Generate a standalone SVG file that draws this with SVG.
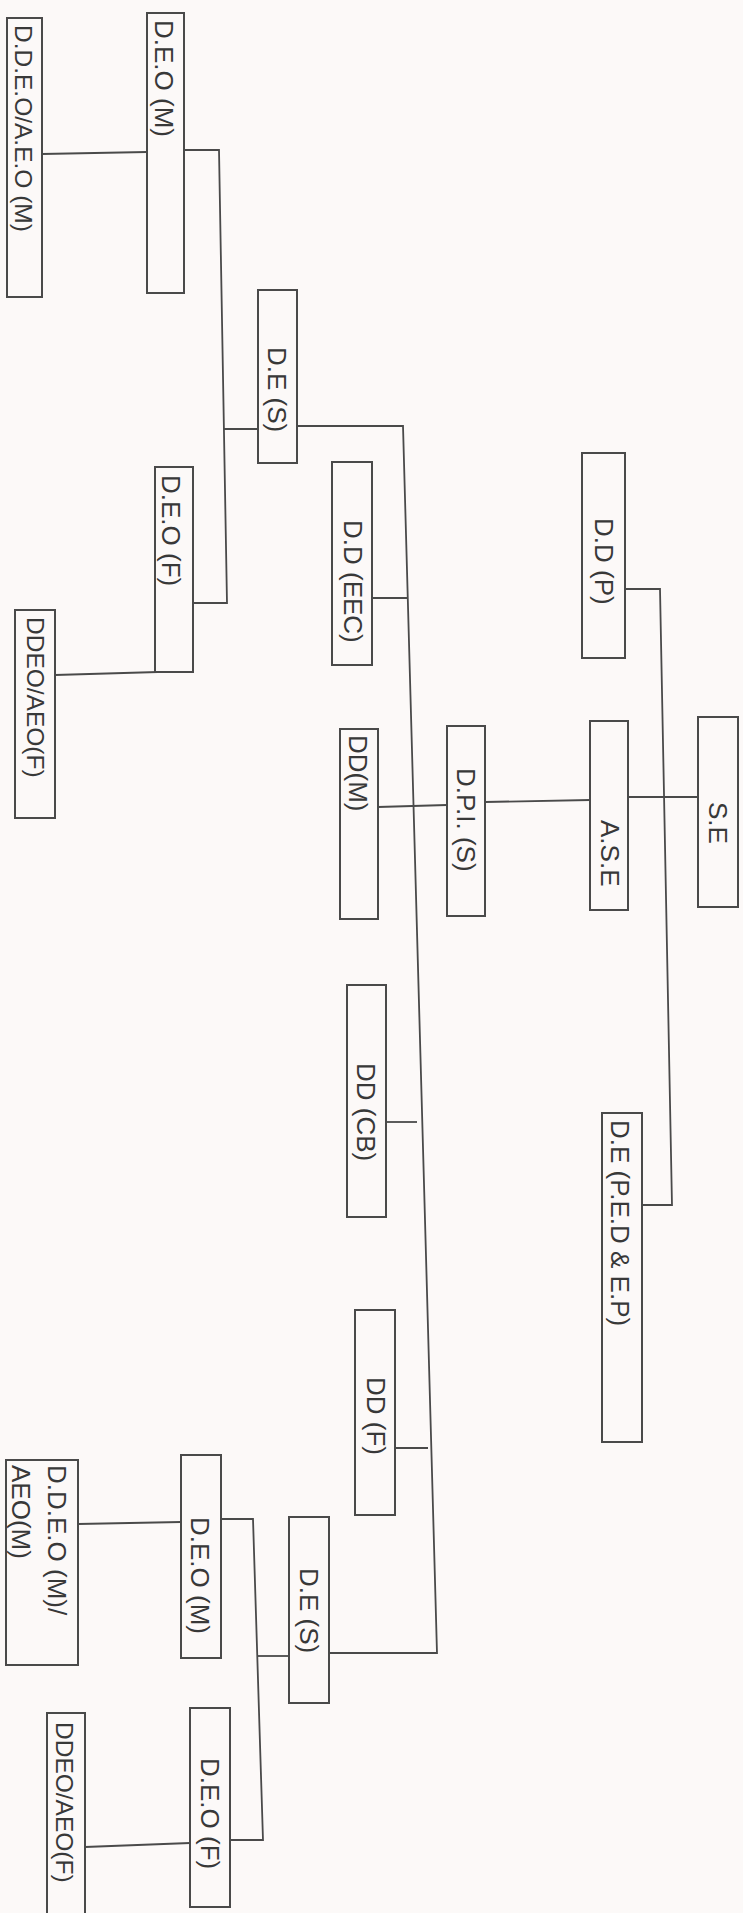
<svg xmlns="http://www.w3.org/2000/svg" width="743" height="1913" viewBox="0 0 743 1913">
<style>
.box{fill:none;stroke:#4a4a4a;stroke-width:2}
.ln{fill:none;stroke:#4a4a4a;stroke-width:1.8}
.t{font-family:"Liberation Sans",Arial,sans-serif;font-size:26px;fill:#383838;dominant-baseline:central}
.s{font-size:24.5px}
</style>
<rect x="0" y="0" width="743" height="1913" fill="#fcf9f8"/>
<g id="connectors">
<polyline class="ln" points="42,154 147,152"/>
<polyline class="ln" points="184,150 219,150 227,603 193,603"/>
<polyline class="ln" points="258,429 224,429"/>
<polyline class="ln" points="55,675 158,672"/>
<polyline class="ln" points="297,426 403,426 437,1653 330,1653"/>
<polyline class="ln" points="372,598 408,598"/>
<polyline class="ln" points="378,807 447,805"/>
<polyline class="ln" points="485,802 590,800"/>
<polyline class="ln" points="628,797 698,797"/>
<polyline class="ln" points="625,589 660,589 672,1205 642,1205"/>
<polyline class="ln" points="386,1122 417,1122"/>
<polyline class="ln" points="395,1448 428,1448"/>
<polyline class="ln" points="289,1656 257,1656"/>
<polyline class="ln" points="221,1519 253,1519 263,1840 230,1840"/>
<polyline class="ln" points="78,1524 181,1522"/>
<polyline class="ln" points="85,1847 190,1843"/>
</g>
<g id="n1"><rect class="box" x="7" y="18" width="35" height="279"/><text class="t s" transform="translate(23,25) rotate(90)">D.D.E.O/A.E.O (M)</text></g>
<g id="n2"><rect class="box" x="147" y="13" width="37" height="280"/><text class="t" transform="translate(164,20) rotate(90)">D.E.O (M)</text></g>
<g id="n3"><rect class="box" x="258" y="290" width="39" height="173"/><text class="t" transform="translate(277,347) rotate(90)">D.E (S)</text></g>
<g id="n4"><rect class="box" x="155" y="467" width="38" height="205"/><text class="t" transform="translate(171,475) rotate(90)">D.E.O (F)</text></g>
<g id="n5"><rect class="box" x="15" y="610" width="40" height="208"/><text class="t s" transform="translate(35,617) rotate(90)">DDEO/AEO(F)</text></g>
<g id="n6"><rect class="box" x="332" y="462" width="40" height="203"/><text class="t" transform="translate(353,520) rotate(90)">D.D (EEC)</text></g>
<g id="n7"><rect class="box" x="582" y="453" width="43" height="205"/><text class="t" transform="translate(604,518) rotate(90)">D.D (P)</text></g>
<g id="n8"><rect class="box" x="340" y="729" width="38" height="190"/><text class="t" transform="translate(358,735) rotate(90)">DD(M)</text></g>
<g id="n9"><rect class="box" x="447" y="726" width="38" height="190"/><text class="t" transform="translate(466,768) rotate(90)">D.P.I. (S)</text></g>
<g id="n10"><rect class="box" x="590" y="721" width="38" height="189"/><text class="t" transform="translate(610,820) rotate(90)">A.S.E</text></g>
<g id="n11"><rect class="box" x="698" y="717" width="40" height="190"/><text class="t" transform="translate(718,802) rotate(90)">S.E</text></g>
<g id="n12"><rect class="box" x="347" y="985" width="39" height="232"/><text class="t" transform="translate(366,1063) rotate(90)">DD (CB)</text></g>
<g id="n13"><rect class="box" x="355" y="1310" width="40" height="205"/><text class="t" transform="translate(376,1377) rotate(90)">DD (F)</text></g>
<g id="n14"><rect class="box" x="602" y="1113" width="40" height="329"/><text class="t" transform="translate(620,1120) rotate(90)">D.E (P.E.D &amp; E.P)</text></g>
<g id="n15"><rect class="box" x="6" y="1460" width="72" height="205"/><text class="t" transform="translate(57,1465) rotate(90)">D.D.E.O (M)/</text><text class="t" transform="translate(21,1465) rotate(90)">AEO(M)</text></g>
<g id="n16"><rect class="box" x="181" y="1455" width="40" height="203"/><text class="t" transform="translate(200,1517) rotate(90)">D.E.O (M)</text></g>
<g id="n17"><rect class="box" x="289" y="1517" width="40" height="186"/><text class="t" transform="translate(309,1568) rotate(90)">D.E (S)</text></g>
<g id="n18"><rect class="box" x="190" y="1708" width="40" height="199"/><text class="t" transform="translate(210,1758) rotate(90)">D.E.O (F)</text></g>
<g id="n19"><rect class="box" x="47" y="1713" width="38" height="205"/><text class="t s" transform="translate(64,1722) rotate(90)">DDEO/AEO(F)</text></g>
</svg>
